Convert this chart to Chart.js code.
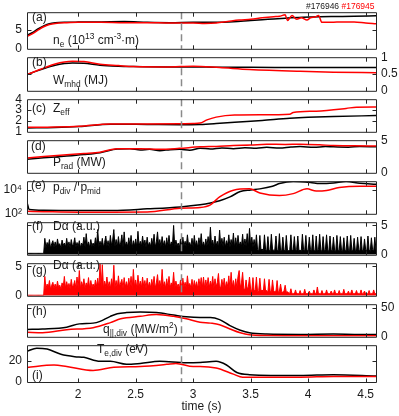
<!DOCTYPE html>
<html>
<head>
<meta charset="utf-8">
<script src="https://cdn.jsdelivr.net/npm/chart.js@4"></script>
<style>
html, body { margin:0; padding:0; background:#fff; }
#wrap { position:relative; width:399px; height:416px; overflow:hidden; }
#wrap canvas { position:absolute; left:0; }
</style>
</head>
<body>
<div id="wrap"></div>
<script>
// ================= DATA =================
// (a) line averaged density, 1e13 cm^-3 m
const neTimeBlack = [1.555,1.6,1.65,1.7,1.75,1.8,1.9,2.0,2.2,2.4,2.6,2.8,3.0,3.2,3.35,3.5,3.65,3.8,3.95,4.1,4.25,4.4,4.59];
const neBlack     = [3.6,4.3,5.3,6.1,6.7,6.95,7.1,7.15,7.2,7.3,7.1,7.0,7.1,7.1,7.25,7.6,7.9,8.2,8.45,8.6,8.65,8.7,8.85];
const neTimeRed   = [1.555,1.6,1.65,1.7,1.75,1.8,1.9,2.0,2.2,2.4,2.6,2.8,3.0,3.1,3.2,3.3,3.4,3.5,3.6,3.7,3.75,3.8,3.82,3.86,3.9,3.94,3.99,4.02,4.06,4.09,4.12,4.2,4.3,4.4,4.5,4.59];
const neRed       = [3.3,4.0,5.0,5.9,6.5,6.8,7.0,7.1,7.1,7.0,7.0,6.9,6.9,6.8,6.9,7.3,7.7,7.9,8.3,8.6,8.7,9.1,7.6,8.9,7.9,8.3,7.7,8.3,8.5,8.9,7.1,7.1,7.2,7.2,6.9,6.7];

// (b) stored energy, MJ
const wTime  = [1.555,1.65,1.71,1.8,1.88,1.95,2.05,2.19,2.35,2.48,2.77,3.0,3.23,3.49,3.93,4.22,4.59];
const wBlack = [0.48,0.6,0.67,0.76,0.81,0.83,0.82,0.76,0.73,0.72,0.71,0.71,0.70,0.70,0.69,0.69,0.69];
const wRed   = [0.48,0.61,0.69,0.80,0.86,0.88,0.87,0.79,0.75,0.72,0.71,0.73,0.69,0.635,0.58,0.555,0.54];

// (c) Zeff
const zTimeBlack = [1.555,1.8,2.01,2.28,2.6,2.88,3.06,3.2,3.36,3.6,3.84,4.0,4.22,4.59];
const zBlack     = [1.36,1.4,1.49,1.7,1.68,1.66,1.68,1.76,1.88,2.05,2.24,2.33,2.41,2.49];
const zTimeRed   = [1.555,1.8,2.01,2.28,2.6,2.88,3.0,3.06,3.12,3.2,3.36,3.6,3.84,3.87,4.07,4.33,4.42,4.59];
const zRed       = [1.42,1.45,1.52,1.72,1.72,1.73,1.76,1.8,2.1,2.35,2.54,2.56,2.61,2.78,2.9,3.15,3.27,3.28];

// (d) radiated power, MW
const pTimeBlack = [1.555,1.7,1.9,2.05,2.19,2.34,2.45,2.54,2.62,2.71,2.8,2.88,2.97,3.06,3.15,3.25,3.35,3.45,3.55,3.64,3.75,3.85,3.93,4.05,4.15,4.22,4.35,4.45,4.59];
const pBlack     = [2.07,2.3,2.56,2.8,3.09,3.65,3.7,3.5,3.6,3.4,3.55,3.6,3.45,3.78,3.65,3.82,3.7,3.85,3.75,3.9,3.8,3.95,4.02,3.9,4.05,3.98,3.92,4.05,3.98];
const pTimeRed   = [1.555,1.7,1.9,2.05,2.19,2.34,2.54,2.71,2.88,3.06,3.2,3.35,3.5,3.64,3.8,3.93,4.1,4.22,4.4,4.59];
const pRed       = [2.28,2.5,2.76,2.95,3.15,3.7,3.7,3.6,3.75,3.98,4.05,4.18,4.25,4.39,4.35,4.39,4.3,4.18,4.15,4.1];

// (e) pdiv / pmid
const rTimeBlack = [1.555,1.575,1.7,2.0,2.3,2.6,2.89,3.06,3.15,3.23,3.32,3.41,3.5,3.58,3.69,3.75,3.87,4.02,4.1,4.22,4.33,4.45,4.59];
const rBlack     = [900,230,200,186,190,260,380,570,800,1230,2600,7400,10000,12300,20600,34000,51000,42000,34000,38000,51000,36000,30000];
const rTimeRed   = [1.555,1.7,2.0,2.3,2.6,2.89,3.06,3.15,3.23,3.35,3.49,3.58,3.75,3.87,3.99,4.07,4.16,4.27,4.45,4.59];
const rRed       = [160,150,136,136,140,290,340,570,2600,9500,12300,5600,3400,4900,12300,8100,9000,15800,20600,20600];

// (f), (g) D-alpha, sampled every 10 ms from 1.55 s
const daStart = 1.55, daStep = 0.01;
const daBlack = [
  0.25,0.25,0.25,0.25,0.25,0.25,0.25,0.25,0.25,0.25,0.25,0.25,0.25,0.25,0.25,0.25,
  2.8,1.2,2.1,1.4,2.6,1.1,1.9,2.4,1.3,2.2,
  1.2,2.7,1.5,1.9,1.1,2.5,1.6,2.0,1.3,2.8,
  1.4,2.2,1.2,2.6,1.5,1.8,2.9,1.3,2.1,1.4,
  2.4,1.2,2.0,1.6,3.0,1.3,3.6,1.5,2.2,1.2,
  2.6,1.4,2.0,1.3,2.9,1.6,4.3,1.4,2.3,1.5,
  2.8,1.3,2.1,3.2,1.5,2.4,1.2,3.3,1.6,2.5,
  4.3,1.4,2.6,1.3,3.1,1.5,2.0,3.4,1.3,3.9,
  1.5,2.2,1.4,2.9,1.6,3.3,1.2,2.4,1.5,2.7,
  1.3,4.0,1.5,2.3,1.4,3.2,1.6,2.5,1.3,3.0,
  1.5,2.1,1.4,2.8,1.6,3.5,1.3,2.2,3.9,1.5,
  2.6,1.4,3.1,1.6,2.4,1.3,2.9,1.5,3.3,1.4,
  2.2,1.6,5.0,1.3,2.5,1.5,2.0,1.2,2.7,1.4,
  3.0,1.5,2.3,1.3,3.4,1.6,2.1,1.4,2.8,1.3,
  3.3,1.5,2.4,1.2,2.9,1.6,3.6,1.4,2.2,1.3,
  2.7,1.5,3.1,1.4,4.7,1.6,2.5,1.3,3.2,1.5,
  2.3,1.2,4.2,1.5,2.8,1.4,3.0,1.3,2.4,1.6,
  3.4,1.3,2.6,1.5,3.7,1.2,2.9,1.4,3.3,1.5,
  2.2,1.4,3.5,1.3,2.7,1.5,3.6,1.2,4.5,1.4,
  3.0,1.3,2.6,1.2,3.4,
  0.9,0.7,3.3,0.8,1.0,0.6,3.4,0.9,0.7,3.1,
  0.8,0.6,3.5,1.0,0.7,0.8,3.2,0.9,0.6,3.6,
  0.8,0.7,3.0,0.9,0.6,3.3,0.8,0.7,0.9,3.4,
  0.7,0.8,3.1,0.6,0.9,3.2,0.7,0.8,0.6,3.5,
  0.9,0.7,3.3,0.8,0.6,3.0,0.9,0.7,3.4,0.8,
  0.6,3.2,0.7,0.9,3.5,0.8,0.6,3.1,0.7,0.9,
  3.4,0.8,0.6,3.2,0.9,0.7,3.0,0.8,0.6,3.3,
  0.9,0.7,3.1,0.8,0.6,2.9,0.9,0.7,3.2,0.8,
  0.6,3.3,0.7,0.9,2.8,0.8,0.6,3.0,0.9,0.7,
  3.1,0.8,0.6,2.7,0.9,0.7,3.2,0.8,0.6,2.9,
  0.9,0.7,3.0,0.8,0.6
];
const daRed = [
  0.1,0.1,0.1,0.1,0.1,0.1,0.1,0.1,0.1,0.1,0.1,0.1,0.1,0.1,0.1,0.1,
  3.3,1.2,2.0,1.4,2.6,1.1,1.8,2.3,1.3,2.0,
  1.2,2.5,1.4,1.8,1.1,2.2,1.5,3.3,1.3,2.4,
  1.4,2.1,1.2,2.8,1.5,1.8,2.6,1.3,3.2,1.4,
  4.3,1.2,2.4,1.6,2.9,1.3,2.2,1.5,3.1,1.2,
  2.6,1.4,2.0,1.3,2.7,1.6,3.0,1.4,5.4,1.5,
  5.3,1.3,2.5,1.6,3.2,1.5,2.4,1.2,2.9,1.6,
  5.2,1.4,2.6,1.3,3.4,1.5,2.2,2.8,1.3,3.1,
  1.5,2.4,1.4,3.0,1.6,3.3,1.2,4.5,1.5,2.7,
  1.3,3.5,1.5,2.5,1.4,3.2,1.6,2.6,1.3,3.0,
  1.5,2.3,1.4,2.8,1.6,3.3,1.3,2.2,3.6,1.5,
  2.6,1.4,4.5,1.6,2.4,1.3,2.9,1.5,3.3,1.4,
  2.2,1.6,4.0,1.3,2.5,1.5,2.0,1.2,2.7,1.4,
  3.0,1.5,2.3,1.3,3.4,1.6,2.1,1.4,2.8,1.3,
  2.6,1.5,2.4,1.2,2.9,1.6,3.1,1.4,3.2,1.3,
  2.7,1.5,3.1,1.4,2.5,1.6,3.3,1.3,2.9,1.5,
  2.3,3.8,1.2,1.5,2.8,1.4,3.0,1.3,2.4,1.6,
  3.4,1.3,4.0,1.5,2.6,1.2,2.9,1.4,3.3,4.3,
  1.4,2.2,4.0,1.3,1.0,2.7,1.2,1.5,3.2,1.1,
  0.9,3.1,0.8,1.0,3.2,0.7,0.9,3.0,0.8,1.0,
  0.7,2.9,0.8,0.9,0.7,2.8,0.8,0.6,2.7,0.9,
  0.7,0.8,2.6,0.6,0.8,2.0,0.7,0.6,0.8,1.8,
  0.6,0.7,0.5,0.4,1.2,0.3,0.4,0.3,1.0,0.3,
  0.4,0.3,0.9,0.3,0.4,0.3,1.1,0.3,0.4,0.3,
  0.8,0.3,0.4,0.3,1.0,0.4,0.3,1.5,0.3,0.4,
  0.3,0.9,0.3,0.4,0.3,1.0,0.3,0.4,0.3,0.8,
  0.4,0.3,1.0,0.3,0.4,0.3,0.9,0.3,0.4,0.3,
  1.1,0.3,0.4,0.3,0.8,0.3,0.4,1.0,0.3,0.4,
  0.3,0.9,0.3,0.4,0.3,1.0,0.3,0.4,0.8,0.3,
  0.4,0.3,0.9,0.3,0.4,0.3,1.0,0.3,0.4,0.3
];

// (h) parallel heat flux at divertor, MW/m2
const qTimeBlack = [1.555,1.69,1.9,2.01,2.13,2.19,2.28,2.34,2.42,2.54,2.68,2.83,2.94,3.06,3.15,3.23,3.32,3.41,3.49,3.64,3.93,4.22,4.4,4.59];
const qBlack     = [12.7,13.6,16.7,22.4,23.7,26.8,35.5,39.9,42,43,42,37.7,34.6,33.3,33.3,29.8,19.3,11.4,7,4.8,4.2,4.8,4.2,3.9];
const qTimeRed   = [1.555,1.69,1.9,2.13,2.28,2.37,2.54,2.68,2.83,2.94,3.06,3.15,3.23,3.32,3.41,3.49,3.64,4.0,4.59];
const qRed       = [7.9,7,12.3,15.8,24.6,31.2,35.5,38.6,35.5,31.2,25.4,23.7,21,13.6,7,3.5,2.2,1.8,1.8];

// (i) divertor electron temperature, eV
const tTimeBlack = [1.555,1.64,1.73,1.85,1.97,2.05,2.19,2.28,2.42,2.54,2.71,2.94,3.06,3.2,3.29,3.38,3.49,3.93,4.22,4.59];
const tBlack     = [29.3,32.2,31.3,26.4,24.1,23.5,19.7,19.7,16.8,17.7,19.7,18.3,18.6,19.7,16.2,9,7,6.1,7,5.8];
const tTimeRed   = [1.555,1.79,1.9,2.13,2.31,2.54,2.77,2.85,3.0,3.06,3.2,3.35,3.43,3.93,4.22,4.59];
const tRed       = [13.9,16.2,14.8,11,14,14.8,16.8,17.7,14.8,14.8,13.3,7.5,4.6,4.6,5.2,5.2];

const xTicks = [2, 2.5, 3, 3.5, 4, 4.5];
const dashTime = 2.89;

// ================= SETUP =================
const FONT = '"Liberation Sans", Arial, Helvetica, sans-serif';
const INK = '#1a1a1a';
const RED = '#ff0000';
const X_MIN = 1.555, X_MAX = 4.59;
const panelEdges = [12, 53, 95, 136, 177, 218, 259, 300, 341, 382];

const pts = (t, v) => v.map((y, i) => ({x: t[i], y}));
const daPts = v => v.map((y, i) => ({x: +(daStart + i * daStep).toFixed(2), y}));

function line(data, color){
  return { data, borderColor: color, borderWidth: 1.5, pointRadius: 0, fill: false, cubicInterpolationMode: 'monotone' };
}
function spikes(data, color){
  return { data, borderColor: color, backgroundColor: color, borderWidth: 1, pointRadius: 0, fill: 'origin', tension: 0 };
}

const panels = [
  { side:'left', min:0, max:9.8, ticks:[0,5],
    datasets:[line(pts(neTimeRed,neRed),RED), line(pts(neTimeBlack,neBlack),'#000')],
    texts:[
      {x:32,y:18,parts:[{t:'(a)'}]},
      {x:53,y:41,parts:[{t:'n'},{t:'e',sub:1},{t:' (10'},{t:'13',sup:1},{t:' cm'},{t:'-3',sup:1},{t:'·m)'}]},
      {x:306,y:7,size:8.5,parts:[{t:'#176946 '},{t:'#176945',color:RED}]}
    ]},
  { side:'right', min:0, max:1, ticks:[0,0.5,1],
    datasets:[line(pts(wTime,wRed),RED), line(pts(wTime,wBlack),'#000')],
    texts:[
      {x:32,y:63,parts:[{t:'(b)'}]},
      {x:53,y:81,parts:[{t:'W'},{t:'mhd',sub:1},{t:' (MJ)'}]}
    ]},
  { side:'left', min:1, max:4, ticks:[1,2,3,4],
    datasets:[line(pts(zTimeRed,zRed),RED), line(pts(zTimeBlack,zBlack),'#000')],
    texts:[
      {x:32,y:109,parts:[{t:'(c)'}]},
      {x:53,y:109,parts:[{t:'Z'},{t:'eff',sub:1}]}
    ]},
  { side:'right', min:0, max:5, ticks:[0,5],
    datasets:[line(pts(pTimeRed,pRed),RED), line(pts(pTimeBlack,pBlack),'#000')],
    texts:[
      {x:31,y:147,parts:[{t:'(d)'}]},
      {x:53,y:163,parts:[{t:'P'},{t:'rad',sub:1},{t:' (MW)'}]}
    ]},
  { side:'left', log:true, min:100, max:54000, ticks:[100,10000],
    label: v => v === 100 ? '10\u00b2' : '10\u2074',
    datasets:[line(pts(rTimeRed,rRed),RED), line(pts(rTimeBlack,rBlack),'#000')],
    texts:[
      {x:31,y:186,parts:[{t:'(e)'}]},
      {x:53,y:188,parts:[{t:'p'},{t:'div',sub:1},{t:' / p'},{t:'mid',sub:1}]}
    ]},
  { side:'right', min:0, max:5.55, ticks:[0,5],
    datasets:[spikes(daPts(daBlack),'#000')],
    texts:[
      {x:32,y:227,parts:[{t:'(f)'}]},
      {x:53,y:227,parts:[{t:'D\u03b1 (a.u.)'}]}
    ]},
  { side:'left', min:0, max:5.55, ticks:[0,5],
    datasets:[spikes(daPts(daRed),RED)],
    texts:[
      {x:32,y:271,parts:[{t:'(g)'}]},
      {x:53,y:266,parts:[{t:'D\u03b1 (a.u.)'}]}
    ]},
  { side:'right', min:0, max:56.5, ticks:[0,50],
    datasets:[line(pts(qTimeRed,qRed),RED), line(pts(qTimeBlack,qBlack),'#000')],
    texts:[
      {x:32,y:312,parts:[{t:'(h)'}]},
      {x:103,y:330,parts:[{t:'q'},{t:'||,div',sub:1},{t:' (MW/m'},{t:'2',sup:1},{t:')'}]}
    ]},
  { side:'left', min:0, max:35, ticks:[0,20],
    datasets:[line(pts(tTimeRed,tRed),RED), line(pts(tTimeBlack,tBlack),'#000')],
    texts:[
      {x:32,y:376,parts:[{t:'(i)'}]},
      {x:97,y:350,parts:[{t:'T'},{t:'e,div',sub:1},{t:' (eV)'}]}
    ]}
];

// text with sub / superscripts
function drawRich(ctx, x, y, parts, size){
  let cx = x;
  ctx.textBaseline = 'middle';
  ctx.textAlign = 'left';
  for(const p of parts){
    const small = p.sub || p.sup;
    ctx.font = (small ? size * 0.7 : size) + 'px ' + FONT;
    ctx.fillStyle = p.color || INK;
    const dy = p.sub ? size * 0.32 : p.sup ? -size * 0.35 : 0;
    ctx.fillText(p.t, cx, y + dy);
    cx += ctx.measureText(p.t).width;
  }
}

// box, inward ticks, dashed marker and labels
const framePlugin = {
  id: 'frame',
  afterDatasetsDraw(chart, args, opts){
    const {ctx, chartArea: a, scales} = chart;
    const top = a.top + 0.5, bot = a.bottom + 0.5, L = a.left + 0.5, R = a.right + 0.5;
    ctx.save();
    const xd = Math.round(scales.x.getPixelForValue(dashTime)) + 0.5;
    ctx.strokeStyle = '#8a8a8a'; ctx.lineWidth = 1.5; ctx.setLineDash([7,4]);
    ctx.beginPath(); ctx.moveTo(xd, a.top); ctx.lineTo(xd, a.bottom); ctx.stroke();
    ctx.setLineDash([]);

    ctx.strokeStyle = '#262626'; ctx.lineWidth = 1;
    ctx.beginPath();
    ctx.moveTo(L, top); ctx.lineTo(R, top); ctx.lineTo(R, bot); ctx.lineTo(L, bot); ctx.closePath();
    xTicks.forEach(v => {
      const px = Math.round(scales.x.getPixelForValue(v)) + 0.5;
      ctx.moveTo(px, top); ctx.lineTo(px, top + 4);
      ctx.moveTo(px, bot); ctx.lineTo(px, bot - 4);
    });
    scales.y.ticks.forEach(t => {
      const py = Math.round(scales.y.getPixelForValue(t.value)) + 0.5;
      if(py < top + 2 || py > bot - 2) return;
      ctx.moveTo(L, py); ctx.lineTo(L + 4, py);
      ctx.moveTo(R, py); ctx.lineTo(R - 4, py);
    });
    ctx.stroke();

    opts.texts.forEach(t => drawRich(ctx, t.x, t.y - opts.offset, t.parts, t.size || 12));
    ctx.restore();
  }
};

// ================= CHARTS =================
const wrap = document.getElementById('wrap');

panels.forEach((p, k) => {
  const top = panelEdges[k], bottom = panelEdges[k + 1];
  const last = k === panels.length - 1;
  const padTop = k === 0 ? top : 8;
  const padBottom = last ? 0 : 8;
  const xAxisH = last ? 416 - bottom : 0;
  const canvasTop = top - padTop;

  const cv = document.createElement('canvas');
  cv.width = 399;
  cv.height = (bottom - top) + padTop + padBottom + xAxisH;
  cv.style.top = canvasTop + 'px';
  wrap.appendChild(cv);

  const left = p.side === 'left';

  new Chart(cv, {
    type: 'line',
    data: { datasets: p.datasets },
    options: {
      responsive: false,
      animation: false,
      devicePixelRatio: 1,
      layout: { autoPadding: false, padding: { top: padTop, bottom: padBottom, left: left ? 0 : 27, right: left ? 23 : 0 } },
      plugins: {
        legend: { display: false },
        tooltip: { enabled: false },
        frame: { texts: p.texts, offset: canvasTop }
      },
      scales: {
        x: {
          type: 'linear', min: X_MIN, max: X_MAX, display: last,
          afterBuildTicks: s => { s.ticks = xTicks.map(v => ({value: v})); },
          afterFit: s => { if(last) s.height = xAxisH; },
          grid: { display: false, drawTicks: false },
          border: { display: false },
          ticks: { padding: 5, color: INK, maxRotation: 0, autoSkip: false, font: { family: FONT, size: 12 },
                   callback: v => String(v) },
          title: { display: true, text: 'time (s)', color: INK, padding: { top: 0, bottom: 2 }, font: { family: FONT, size: 12 } }
        },
        y: {
          type: p.log ? 'logarithmic' : 'linear',
          position: p.side,
          min: p.min, max: p.max,
          afterBuildTicks: s => { s.ticks = p.ticks.map(v => ({value: v})); },
          afterFit: s => { s.width = left ? 27 : 23; },
          grid: { display: false, drawTicks: false },
          border: { display: false },
          ticks: { padding: 5, color: INK, autoSkip: false, font: { family: FONT, size: 12 },
                   callback: p.label || (v => String(v)) }
        }
      }
    },
    plugins: [framePlugin]
  });
});
</script>
</body>
</html>
